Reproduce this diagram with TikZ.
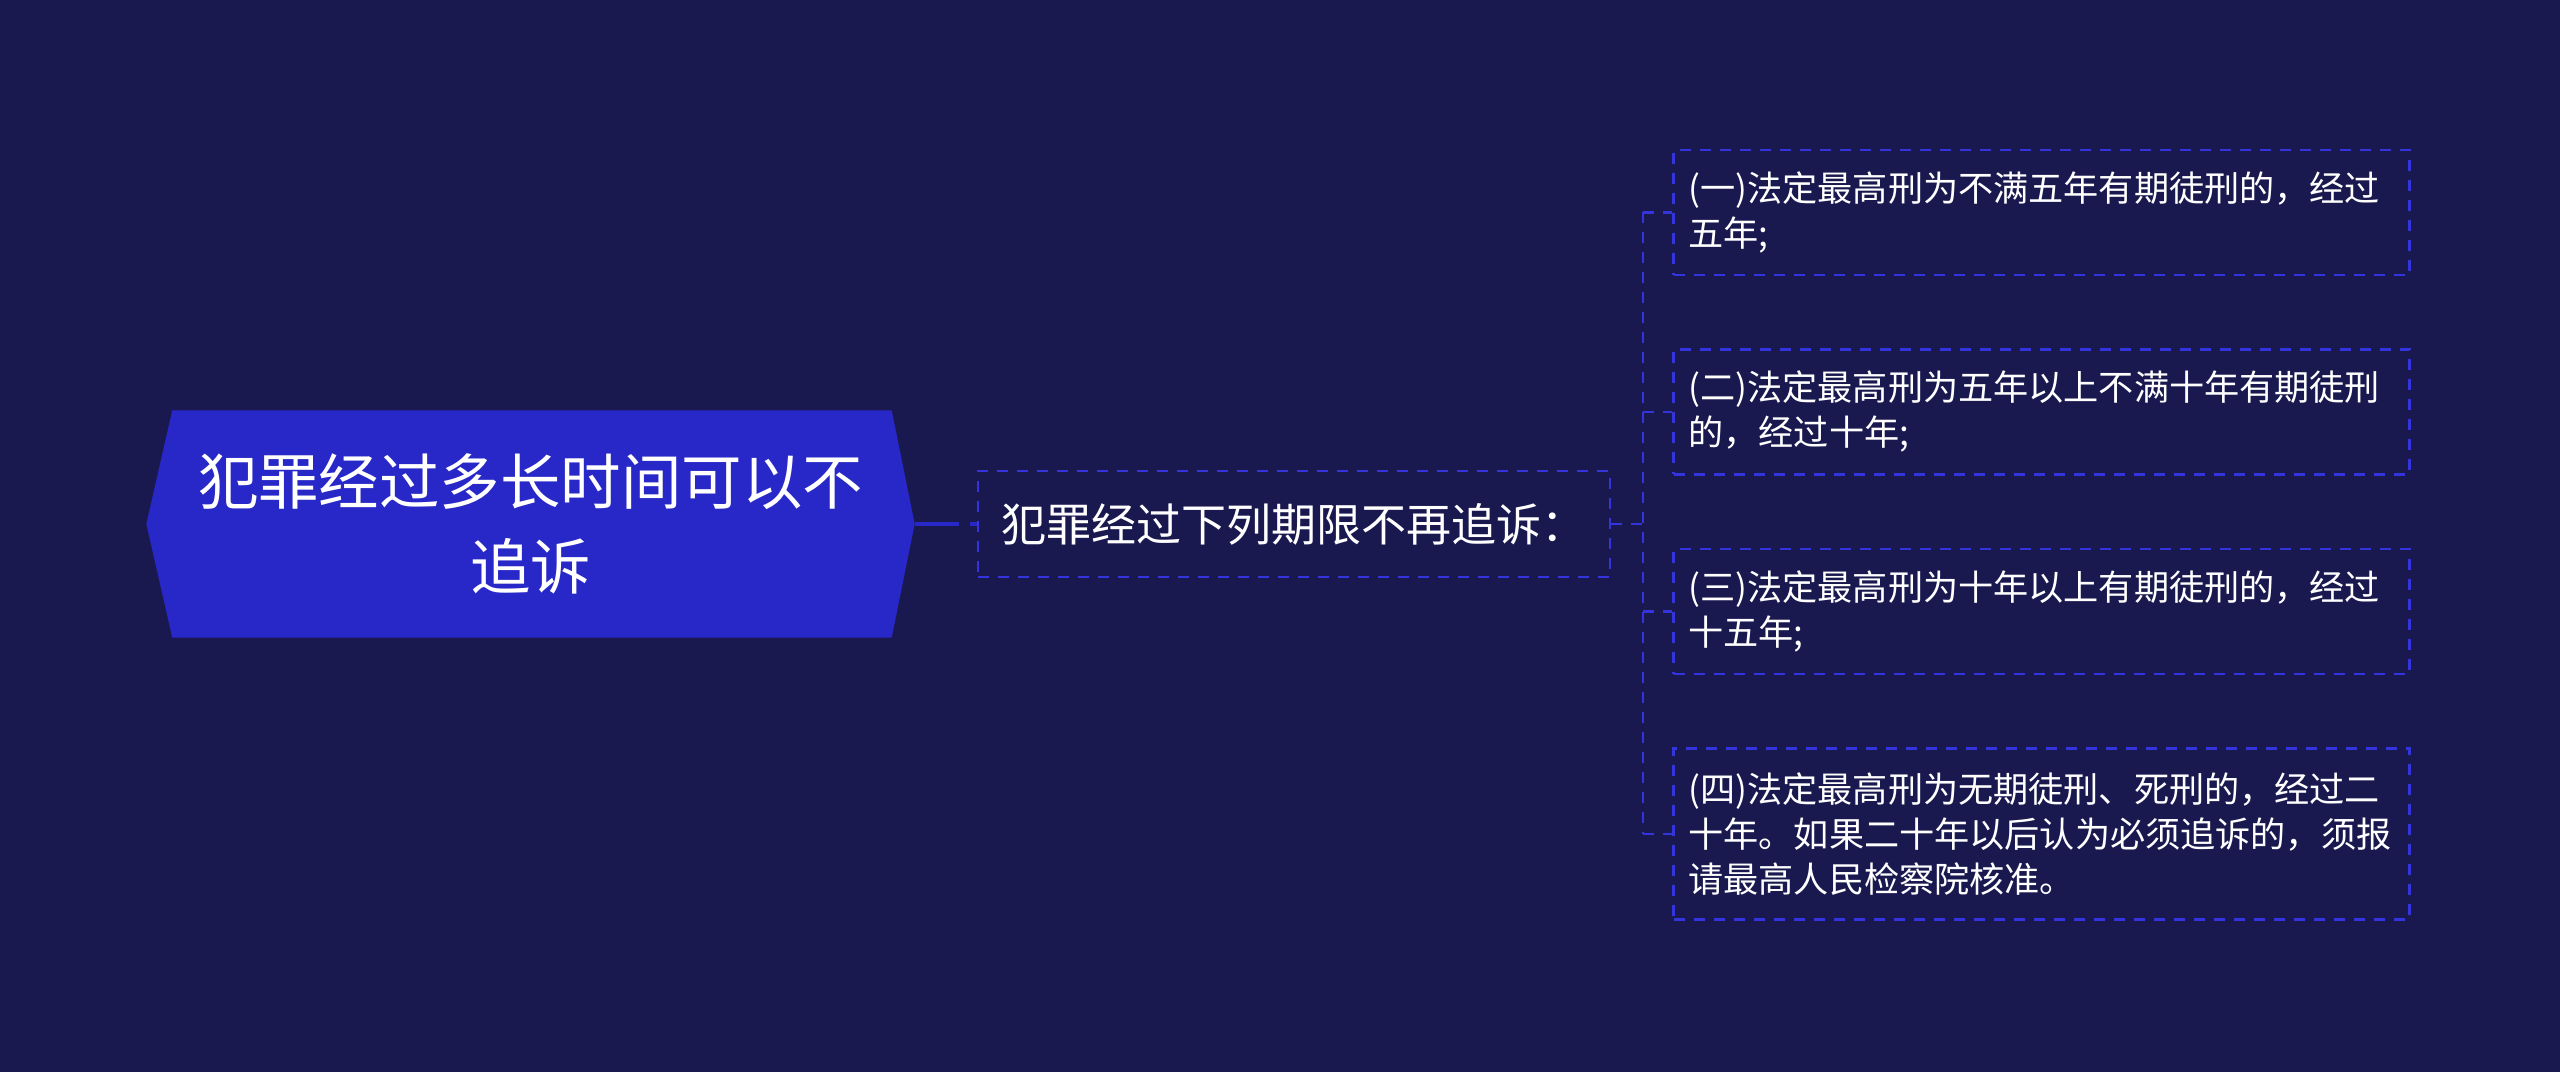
\documentclass[tikz,border=0pt]{standalone}
\usepackage{fontspec}
\newfontfamily\cjkfont{Noto Sans CJK SC}
\usetikzlibrary{positioning,calc}
\pgfdeclarelayer{back}
\pgfdeclarelayer{shape}
\pgfsetlayers{back,shape,main}
\definecolor{navybg}{RGB}{25,25,80}
\definecolor{rootblue}{RGB}{40,40,200}
\definecolor{dashblue}{RGB}{52,52,220}
\tikzset{
  rootnode/.style = {
    minimum width=7.67cm,
    minimum height=2.26cm,
    inner sep=0pt,
    align=center,
    text=white,
    font=\cjkfont\fontsize{17.2}{24.2}\selectfont},
  topic/.style = {
    draw=dashblue, line width=0.7pt,
    dash pattern=on 0.11cm off 0.09cm,
    minimum width=6.32cm,
    minimum height=1.06cm,
    text=white,
    font=\cjkfont\fontsize{12.8}{15}\selectfont},
  leaf/.style = {
    draw=dashblue, line width=0.7pt,
    dash pattern=on 0.11cm off 0.09cm,
    text width=7.06cm,
    inner xsep=0.15cm,
    minimum height=1.25cm,
    align=left,
    text=white,
    font=\cjkfont\fontsize{10}{12.8}\selectfont},
  rootlink/.style = {draw=rootblue, line width=1.1pt, dash pattern=on 0.44cm off 0.11cm},
  branch/.style = {draw=dashblue, line width=0.7pt, dash pattern=on 0.11cm off 0.09cm},
}
\begin{document}
\begin{tikzpicture}
  \begin{pgfonlayer}{back}
    \fill[navybg] (0,0) rectangle (25.6,10.72);
  \end{pgfonlayer}
  \useasboundingbox (0,0) rectangle (25.6,10.72);
  % the main topic
  \node[rootnode] (root) at (5.305,5.48) {犯罪经过多长时间可以不\\追诉};
  \begin{pgfonlayer}{shape}
    \fill[rootblue] (root.west) -- ($(root.north west)+(0.26,0)$)
      -- ($(root.north east)+(-0.23,0)$) -- (root.east)
      -- ($(root.south east)+(-0.23,0)$) -- ($(root.south west)+(0.26,0)$) -- cycle;
  \end{pgfonlayer}
  \node[topic, right=0.62cm of root] (topic) {犯罪经过下列期限不再追诉：};
  % the four periods
  \node[leaf] (leaf1) at (20.415,8.595) {(一)法定最高刑为不满五年有期徒刑的，经过\\五年;};
  \node[leaf, below=0.72cm of leaf1] (leaf2) {(二)法定最高刑为五年以上不满十年有期徒刑\\的，经过十年;};
  \node[leaf, below=0.72cm of leaf2] (leaf3) {(三)法定最高刑为十年以上有期徒刑的，经过\\十五年;};
  \node[leaf, below=0.72cm of leaf3, minimum height=1.71cm] (leaf4)
    {(四)法定最高刑为无期徒刑、死刑的，经过二\\十年。如果二十年以后认为必须追诉的，须报\\请最高人民检察院核准。};
  % connections
  \draw[rootlink] (root.east) -- (topic.west);
  \draw[branch] (topic.east) -- ++(0.32,0) coordinate (fork);
  %% the trunk and its ticks
  \draw[branch] (fork |- leaf1.west) -- (fork |- leaf4.west);
  \draw[branch] (fork |- leaf1.west) -- (leaf1.west);
  \draw[branch] (fork |- leaf2.west) -- (leaf2.west);
  \draw[branch] (fork |- leaf3.west) -- (leaf3.west);
  \draw[branch] (fork |- leaf4.west) -- (leaf4.west);
\end{tikzpicture}
\end{document}
